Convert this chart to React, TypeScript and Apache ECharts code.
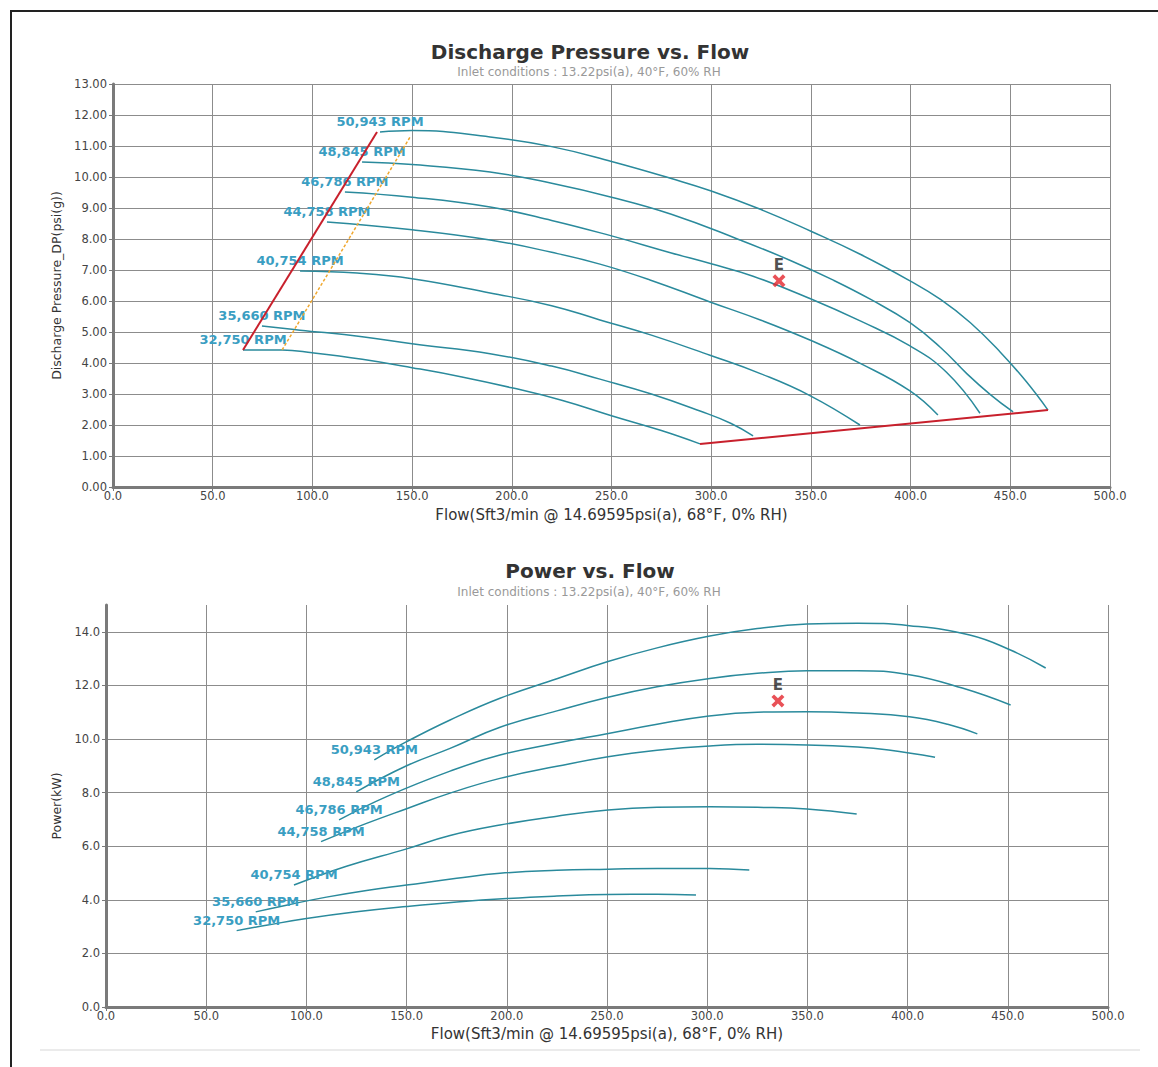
import React, { useEffect, useRef } from "react";
import * as echarts from "echarts";

// ---------- DATA ----------
const RPM_NAMES = ["50,943 RPM", "48,845 RPM", "46,786 RPM", "44,758 RPM", "40,754 RPM", "35,660 RPM", "32,750 RPM"];

// Discharge pressure (psi(g)) vs flow
const dp50943 = [[133.9, 11.45], [150, 11.5], [189.1, 11.29], [220, 10.98], [250, 10.5], [280, 9.95], [300, 9.55], [325, 8.95], [350, 8.25], [375, 7.5], [399.7, 6.65], [415, 6.05], [430, 5.3], [445, 4.35], [458, 3.4], [468.9, 2.48]];
const dp48845 = [[124.9, 10.48], [150, 10.4], [189.1, 10.16], [220, 9.8], [250, 9.35], [280, 8.8], [314.4, 7.97], [340, 7.3], [361, 6.68], [380, 6.05], [399.7, 5.3], [415, 4.5], [428.3, 3.65], [440, 2.98], [451.4, 2.42]];
const dp46786 = [[116.3, 9.52], [150, 9.35], [189.1, 9.03], [220, 8.6], [250, 8.1], [280, 7.55], [300, 7.2], [321, 6.8], [349.5, 6.08], [375, 5.35], [399.7, 4.55], [418, 3.7], [434.8, 2.38]];
const dp44758 = [[107.3, 8.55], [150, 8.3], [189.1, 7.97], [220, 7.57], [244.2, 7.19], [269.3, 6.68], [299.4, 5.97], [325, 5.38], [349.5, 4.74], [375, 3.98], [399.7, 3.1], [413.7, 2.32]];
const dp40754 = [[93.8, 6.97], [122.4, 6.9], [150, 6.72], [189.1, 6.26], [220, 5.85], [244.2, 5.39], [270, 4.9], [299.4, 4.25], [325, 3.65], [349.5, 2.95], [374.6, 2.0]];
const dp35660 = [[74.7, 5.19], [93.8, 5.06], [125, 4.85], [150, 4.62], [189.1, 4.3], [220, 3.9], [244.2, 3.48], [270, 3.0], [294.4, 2.45], [310, 2.05], [321, 1.65]];
const dp32750 = [[65.2, 4.42], [84.8, 4.42], [100, 4.33], [125, 4.12], [150, 3.85], [175, 3.55], [200, 3.2], [225, 2.8], [250, 2.3], [275, 1.82], [294.4, 1.39]];

const surgeLine = [[65.2, 4.42], [132.4, 11.45]];
const controlLine = [[84.8, 4.42], [149, 11.29]];
const chokeLine = [[294.4, 1.39], [468.9, 2.48]];
const pointE_DP = [334, 6.65];

// Power (kW) vs flow
const pw50943 = [[133.9, 9.22], [150, 9.9], [171.7, 10.71], [196.6, 11.52], [225, 12.25], [250.5, 12.89], [275, 13.4], [301.3, 13.84], [325, 14.12], [349.8, 14.29], [375, 14.32], [400.9, 14.23], [431, 13.88], [451.3, 13.32], [468.9, 12.65]];
const pw48845 = [[124.9, 8.03], [150, 9.0], [171.7, 9.65], [196.6, 10.44], [225, 11.05], [250.5, 11.56], [275, 11.95], [301.3, 12.26], [325, 12.45], [349.8, 12.55], [375, 12.55], [400.9, 12.4], [427.3, 11.9], [451.4, 11.27]];
const pw46786 = [[116.3, 6.98], [140, 7.85], [171.7, 8.8], [196.6, 9.4], [225, 9.85], [250, 10.2], [275, 10.55], [300, 10.85], [325, 11.0], [349.8, 11.02], [375, 10.97], [400.9, 10.83], [420, 10.55], [434.8, 10.19]];
const pw44758 = [[107.3, 6.17], [130, 6.85], [150, 7.4], [171.7, 7.98], [196.6, 8.53], [225, 8.98], [250.5, 9.34], [275, 9.58], [301.3, 9.74], [325, 9.8], [349.8, 9.78], [375, 9.7], [390.5, 9.59], [413.7, 9.32]];
const pw40754 = [[93.8, 4.55], [120, 5.25], [150, 5.9], [171.7, 6.4], [196.6, 6.79], [225, 7.12], [250.5, 7.35], [275, 7.45], [301.3, 7.47], [325, 7.45], [349.8, 7.39], [374.6, 7.2]];
const pw35660 = [[74.7, 3.55], [90, 3.8], [110, 4.1], [130, 4.35], [150, 4.55], [175, 4.8], [196.6, 4.99], [225, 5.1], [250.5, 5.14], [275, 5.17], [301.3, 5.17], [321, 5.11]];
const pw32750 = [[65.2, 2.85], [80, 3.05], [100, 3.3], [125, 3.55], [150, 3.75], [175, 3.92], [200, 4.05], [225, 4.14], [250, 4.2], [275, 4.21], [294.4, 4.18]];
const pointE_PW = [335.3, 11.42];

const X_TICKS = { min: 0, max: 500, interval: 50 };
const DP_TICKS = { min: 0, max: 13, interval: 1 };
const PW_TICKS = { min: 0, max: 15, interval: 2 };

const TITLE_DP = "Discharge Pressure vs. Flow";
const TITLE_PW = "Power vs. Flow";
const SUBTITLE = "Inlet conditions : 13.22psi(a), 40°F, 60% RH";
const X_NAME = "Flow(Sft3/min @ 14.69595psi(a), 68°F, 0% RH)";
const Y_NAME_DP = "Discharge Pressure_DP(psi(g))";
const Y_NAME_PW = "Power(kW)";

// ---------- STYLE ----------
const TEAL = "#2a8a9c";
const LABEL_COLOR = "#3a9ec2";
const GRID_COLOR = "#8c8c8c";
const AXIS_COLOR = "#7a7a7a";
const FONT = "DejaVu Sans";
const XPATH = "path://M2,0L5,3L8,0L10,2L7,5L10,8L8,10L5,7L2,10L0,8L3,5L0,2Z";

function curve(name: string, data: number[][], idx: number) {
  return {
    type: "line",
    name,
    xAxisIndex: idx,
    yAxisIndex: idx,
    data: data.map((p, i) => (i === 0 ? { value: p, label: { show: true } } : { value: p })),
    smooth: 0.45,
    showSymbol: true,
    symbol: "circle",
    symbolSize: 0,
    lineStyle: { color: TEAL, width: 1.5 },
    itemStyle: { color: TEAL },
    label: {
      show: false,
      position: "top",
      distance: 4,
      formatter: name,
      color: LABEL_COLOR,
      fontSize: 13,
      fontWeight: "bold",
      fontFamily: FONT,
    },
    silent: true,
    z: 3,
  };
}

function straight(data: number[][], idx: number, color: string, type: any, width: number) {
  return {
    type: "line",
    xAxisIndex: idx,
    yAxisIndex: idx,
    data,
    showSymbol: false,
    symbol: "none",
    lineStyle: { color, width, type },
    silent: true,
    z: 4,
  };
}

function marker(p: number[], idx: number) {
  return {
    type: "scatter",
    xAxisIndex: idx,
    yAxisIndex: idx,
    data: [p],
    symbol: XPATH,
    symbolSize: 13,
    itemStyle: { color: "#e3262d" },
    label: {
      show: true,
      formatter: "E",
      position: "top",
      distance: 2,
      color: "#222",
      fontWeight: "bold",
      fontSize: 15,
      fontFamily: FONT,
    },
    silent: true,
    z: 5,
  };
}

function xAxis(gridIndex: number, nameGap: number) {
  return {
    type: "value",
    gridIndex,
    ...X_TICKS,
    name: X_NAME,
    nameLocation: "middle",
    nameGap,
    nameTextStyle: { fontFamily: FONT, fontSize: 15, color: "#333" },
    axisLine: { show: true, onZero: false, lineStyle: { color: AXIS_COLOR, width: 3 } },
    axisTick: { show: true, length: 4, lineStyle: { color: AXIS_COLOR } },
    axisLabel: { margin: 3, fontFamily: FONT, fontSize: 11.5, color: "#444", formatter: (v: number) => v.toFixed(1) },
    splitLine: { show: true, lineStyle: { color: GRID_COLOR, width: 1 } },
  };
}

const PW_SPLIT_COLORS = [GRID_COLOR, GRID_COLOR, GRID_COLOR, GRID_COLOR, GRID_COLOR, GRID_COLOR, GRID_COLOR, GRID_COLOR, "rgba(0,0,0,0)"];

export default function App() {
  const ref = useRef<HTMLDivElement>(null);
  useEffect(() => {
    if (!ref.current) return;
    const chart = echarts.init(ref.current, undefined, { renderer: "svg" });
    const option = {
      animation: false,
      backgroundColor: "#ffffff",
      title: [
        { text: TITLE_DP, left: 590, top: 42, textAlign: "center", padding: 0, textStyle: { fontFamily: FONT, fontSize: 20, fontWeight: "bold", color: "#333" } },
        { text: SUBTITLE, left: 589, top: 66, textAlign: "center", padding: 0, textStyle: { fontFamily: FONT, fontSize: 12, fontWeight: "normal", color: "#999" } },
        { text: TITLE_PW, left: 590, top: 561, textAlign: "center", padding: 0, textStyle: { fontFamily: FONT, fontSize: 20, fontWeight: "bold", color: "#333" } },
        { text: SUBTITLE, left: 589, top: 586, textAlign: "center", padding: 0, textStyle: { fontFamily: FONT, fontSize: 12, fontWeight: "normal", color: "#999" } },
      ],
      grid: [
        { left: 113, right: 48, top: 84, height: 403 },
        { left: 106, right: 50, top: 605, height: 402 },
      ],
      xAxis: [xAxis(0, 20), xAxis(1, 19)],
      yAxis: [
        {
          type: "value",
          gridIndex: 0,
          ...DP_TICKS,
          name: Y_NAME_DP,
          nameLocation: "middle",
          nameGap: 50,
          nameTextStyle: { fontFamily: FONT, fontSize: 12.5, color: "#333" },
          axisLine: { show: true, lineStyle: { color: AXIS_COLOR, width: 3 } },
          axisTick: { show: true, length: 4, lineStyle: { color: AXIS_COLOR } },
          axisLabel: { margin: 6, fontFamily: FONT, fontSize: 11.5, color: "#444", formatter: (v: number) => v.toFixed(2) },
          splitLine: { show: true, lineStyle: { color: GRID_COLOR, width: 1 } },
        },
        {
          type: "value",
          gridIndex: 1,
          ...PW_TICKS,
          name: Y_NAME_PW,
          nameLocation: "middle",
          nameGap: 42,
          nameTextStyle: { fontFamily: FONT, fontSize: 12.5, color: "#333" },
          axisLine: { show: true, lineStyle: { color: AXIS_COLOR, width: 3 } },
          axisTick: { show: true, length: 4, lineStyle: { color: AXIS_COLOR } },
          axisLabel: { margin: 6, fontFamily: FONT, fontSize: 11.5, color: "#444", showMaxLabel: false, formatter: (v: number) => (v === 15 ? "" : v.toFixed(1)) },
          splitLine: { show: true, lineStyle: { color: PW_SPLIT_COLORS, width: 1 } },
        },
      ],
      graphic: [
        { type: "line", shape: { x1: 10, y1: 11, x2: 1158, y2: 11 }, style: { stroke: "#222", lineWidth: 2 }, silent: true },
        { type: "line", shape: { x1: 11, y1: 10, x2: 11, y2: 1067 }, style: { stroke: "#222", lineWidth: 2 }, silent: true },
        { type: "line", shape: { x1: 40, y1: 1050, x2: 1140, y2: 1050 }, style: { stroke: "#e4e4e4", lineWidth: 1.5 }, silent: true },
      ],
      series: [
        curve(RPM_NAMES[0], dp50943, 0),
        curve(RPM_NAMES[1], dp48845, 0),
        curve(RPM_NAMES[2], dp46786, 0),
        curve(RPM_NAMES[3], dp44758, 0),
        curve(RPM_NAMES[4], dp40754, 0),
        curve(RPM_NAMES[5], dp35660, 0),
        curve(RPM_NAMES[6], dp32750, 0),
        straight(surgeLine, 0, "#c8202c", "solid", 2),
        straight(controlLine, 0, "#f0a830", [3, 2], 1.5),
        straight(chokeLine, 0, "#c8202c", "solid", 2),
        marker(pointE_DP, 0),
        curve(RPM_NAMES[0], pw50943, 1),
        curve(RPM_NAMES[1], pw48845, 1),
        curve(RPM_NAMES[2], pw46786, 1),
        curve(RPM_NAMES[3], pw44758, 1),
        curve(RPM_NAMES[4], pw40754, 1),
        curve(RPM_NAMES[5], pw35660, 1),
        curve(RPM_NAMES[6], pw32750, 1),
        marker(pointE_PW, 1),
      ],
    };
    chart.setOption(option as any);
    return () => chart.dispose();
  }, []);
  return <div ref={ref} style={{ position: "fixed", left: 0, top: 0, width: 1158, height: 1067 }} />;
}
